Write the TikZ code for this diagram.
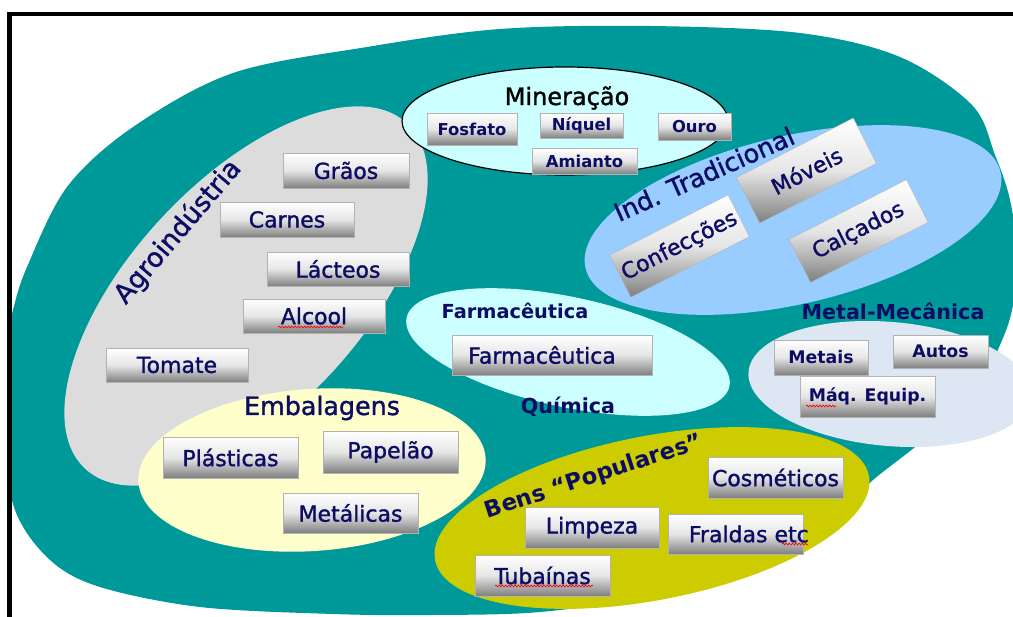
\documentclass[tikz,border=0pt]{standalone}
\usepackage{fontspec}
\setmainfont{DejaVu Sans}
\newfontfamily\semib{DejaVu Sans}[FakeBold=1.3]
\usetikzlibrary{decorations.pathmorphing}
\definecolor{tealc}{RGB}{0,153,153}
\definecolor{agroc}{RGB}{220,220,220}
\definecolor{minerc}{RGB}{204,255,255}
\definecolor{indtc}{RGB}{153,204,255}
\definecolor{farmc}{RGB}{204,255,255}
\definecolor{metalc}{RGB}{220,231,243}
\definecolor{embc}{RGB}{255,255,204}
\definecolor{bensc}{RGB}{204,204,0}
\definecolor{navy}{RGB}{12,12,100}
\begin{document}
\begin{tikzpicture}[x=0.75pt,y=-0.75pt,
  bx/.style={rectangle, draw=black!30, line width=0.3pt, top color=white, bottom color=black!50, middle color=black!10, text=navy, inner sep=0pt, font=\semib\fontsize{16.5}{18}\selectfont},
  bxm/.style={bx, font=\bfseries\fontsize{12.3}{13}\selectfont},
  bxt/.style={bx, font=\bfseries\fontsize{13}{14}\selectfont},
  sz/.style 2 args={minimum width={#1*0.75pt}, minimum height={#2*0.75pt}},
  lbl/.style={text=navy, inner sep=0pt},
  squig/.style={red, line width=0.5pt, decorate, decoration={snake, amplitude=0.7pt, segment length=2.4pt}}
]
\useasboundingbox (0,0) rectangle (1013,617);
\fill[white] (0,0) rectangle (1013,617);
\begin{scope}
\clip (11,0) rectangle (1013,617);
% big teal region
\fill[tealc] plot[smooth cycle, tension=0.55] coordinates {(500,29) (650,26) (800,33) (900,57) (972,105) (995,155) (1010,200) (1018,260) (1012,310) (1000,345) (975,395) (920,443) (873,480) (840,512) (760,560) (650,595) (540,612) (430,615) (333,614) (200,607) (100,587) (50,560) (15,510) (2,430) (5,350) (13,310) (27,267) (67,187) (133,127) (233,73) (367,47)};
% sector ellipses
\fill[agroc, shift={(246,296)}, rotate=47] (0,0) ellipse [x radius=236, y radius=115];
\fill[embc, shift={(312,470)}, rotate=4] (0,0) ellipse [x radius=174, y radius=81];
\filldraw[fill=minerc, draw=black, line width=0.9pt, shift={(565,121)}] (0,0) ellipse [x radius=163, y radius=54];
\fill[indtc, shift={(793,220)}, rotate=13] (0,0) ellipse [x radius=213, y radius=84];
\fill[farmc, shift={(568,352)}, rotate=-12] (0,0) ellipse [x radius=165, y radius=55];
\fill[metalc, shift={(890,384)}, rotate=-5] (0,0) ellipse [x radius=142, y radius=62];
\fill[bensc, shift={(652,518)}, rotate=11] (0,0) ellipse [x radius=221, y radius=82];
\end{scope}
% frame
\draw[line width=3.4pt, black] (7,14) -- (1013,14);
\draw[line width=3.4pt, black] (9.5,12) -- (9.5,617);
% Mineracao
\node[text=black, inner sep=0pt, font=\semib\fontsize{18}{20}\selectfont] (mineracao) at (567,98) {Mineração};
\node[bxm, sz={90}{32}] (fosfato) at (472,129) {Fosfato};
\node[bxm, sz={83}{25}] (niquel) at (581.5,125.5) {Níquel};
\node[bxm, sz={73}{27}] (ouro) at (694.5,126.5) {Ouro};
\node[bxm, sz={105}{26}] (amianto) at (584.5,161) {Amianto};
% Agroindustria
\node[lbl, rotate=49.5, font=\semib\fontsize{20}{22}\selectfont] (agro) at (178,232) {Agroindústria};
\node[bx, sz={126}{35}] (graos) at (346,170.5) {Grãos};
\node[bx, sz={134}{35}] (carnes) at (287,219.5) {Carnes};
\node[bx, sz={142}{34}] (lacteos) at (338,269) {Lácteos};
\node[bx, sz={142}{34}] (alcool) at (314,316) {Alcool};
\node[bx, sz={142}{34}] (tomate) at (177,365) {Tomate};
% Embalagens
\node[lbl, font=\semib\fontsize{19}{21}\selectfont] (emb) at (322,408) {Embalagens};
\node[bx, sz={135}{41}] (plasticas) at (230.5,457.5) {Plásticas};
\node[bx, sz={135}{42}] (papelao) at (390.5,452) {Papelão};
\node[bx, sz={135}{40}] (metalicas) at (350.5,513) {Metálicas};
% Farmaceutica / Quimica
\node[lbl, font=\bfseries\fontsize{14.5}{16}\selectfont] (farmlbl) at (515,311) {Farmacêutica};
\node[bx, sz={200}{40}] (farmbox) at (552,355) {\makebox[0pt]{Farmacêutica\hspace*{15pt}}};
\node[lbl, font=\bfseries\fontsize{15.5}{17}\selectfont] (quimica) at (568,407) {Química};
% Metal-Mecanica
\node[lbl, font=\bfseries\fontsize{15.5}{17}\selectfont] (metallbl) at (893,311) {Metal-Mecânica};
\node[bxt, sz={94}{35}] (metais) at (821,357.5) {Metais};
\node[bxt, sz={95}{33}] (autos) at (940.5,351.5) {Autos};
\node[bxt, sz={135}{41}] (maq) at (867.5,396.5) {Máq. Equip.};
% Ind. Tradicional
\node[lbl, rotate=24, font=\semib\fontsize{19}{21}\selectfont] (indtrad) at (704,174) {Ind. Tradicional};
\node[bx, rotate=27, sz={131}{51}] (moveis) at (806.5,170.5) {Móveis};
\node[bx, rotate=27, sz={133}{47}] (confec) at (679.5,246) {Confecções};
\node[bx, rotate=27, sz={132}{48}] (calcados) at (858.5,231) {Calçados};
% Bens populares
\node[lbl, rotate=18, font=\bfseries\fontsize{17}{19}\selectfont] (benslbl) at (594,477) {Bens “Populares”};
\node[bx, sz={135}{41}] (cosmeticos) at (775.5,477.5) {Cosméticos};
\node[bx, sz={134}{41}] (limpeza) at (592,527.5) {Limpeza};
\node[bx, sz={135}{40}] (fraldas) at (735.5,534) {\makebox[0pt]{\hspace*{20pt}Fraldas etc}};
\node[bx, sz={135}{41}] (tubainas) at (542.5,575.5) {Tubaínas};
% spell-check squiggles
\draw[squig] (278,327) -- (343,327);
\draw[squig] (806,406) -- (836,406);
\draw[squig] (495,586) -- (593,586);
\draw[squig] (782,544) -- (808,544);
\end{tikzpicture}
\end{document}
